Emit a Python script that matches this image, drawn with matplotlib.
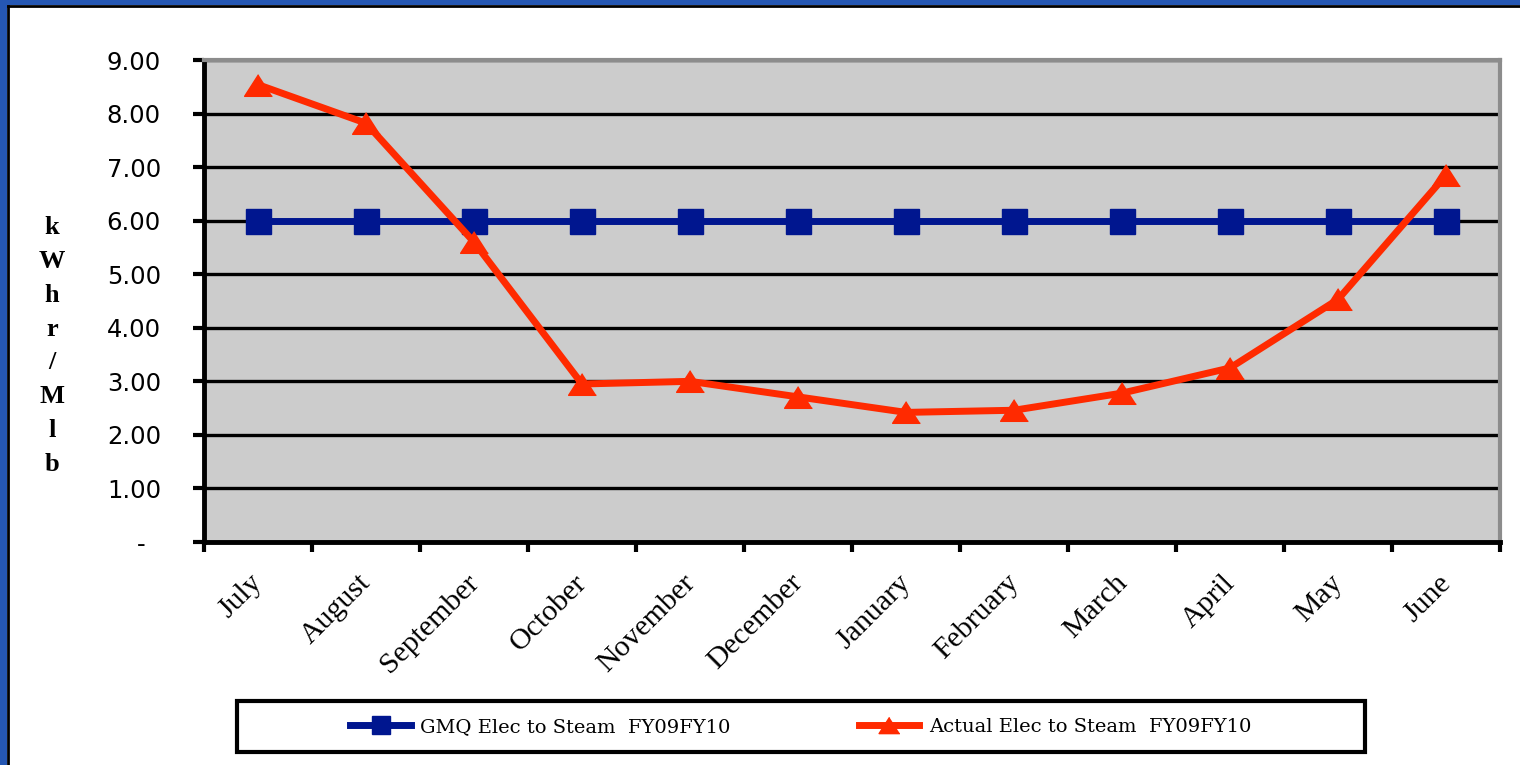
import matplotlib.pyplot as plt
from matplotlib.patches import Rectangle
from matplotlib.lines import Line2D
from matplotlib.transforms import ScaledTranslation

months = ['July', 'August', 'September', 'October', 'November', 'December',
          'January', 'February', 'March', 'April', 'May', 'June']
gmq = [6.00, 6.00, 6.00, 6.00, 6.00, 6.00, 6.00, 6.00, 6.00, 6.00, 6.00, 6.00]
actual = [8.54, 7.82, 5.60, 2.95, 3.00, 2.71, 2.42, 2.46, 2.78, 3.25, 4.53, 6.85]
yticks = [0, 1, 2, 3, 4, 5, 6, 7, 8, 9]

blue = '#00168f'
red = '#ff2a00'
tri = [(0, 0.78), (-1, -0.78), (1, -0.78)]

fig = plt.figure(figsize=(15.2, 7.65), dpi=100)
W, H = 1520, 765

# slide frame
fig.patches.append(Rectangle((0, 0), 7 / W, 1, transform=fig.transFigure,
                             facecolor='#2557b3', edgecolor='none'))
fig.patches.append(Rectangle((0, 1 - 5 / H), 1, 5 / H, transform=fig.transFigure,
                             facecolor='#2557b3', edgecolor='none'))
fig.lines.append(Line2D([8 / W, 8 / W], [0, 1 - 6 / H], transform=fig.transFigure,
                        color='black', lw=2))
fig.lines.append(Line2D([8 / W, 1], [1 - 6 / H, 1 - 6 / H], transform=fig.transFigure,
                        color='black', lw=2))

ax = fig.add_axes([204 / W, 1 - 542 / H, 1296 / W, 482 / H])
ax.set_facecolor('#cccccc')
x = list(range(len(months)))

ax.plot(x, gmq, color=blue, lw=5, marker='s', markersize=18,
        markerfacecolor=blue, markeredgecolor=blue, zorder=3,
        label='GMQ Elec to Steam  FY09FY10')
ax.plot(x, actual, color=red, lw=5, marker=tri, markersize=20,
        markerfacecolor=red, markeredgecolor=red, zorder=4,
        label='Actual Elec to Steam  FY09FY10')

ax.set_xlim(-0.5, len(months) - 0.5)
ax.set_ylim(0, 9)
ax.set_yticks(yticks)
ax.set_yticklabels(['-  '] + ['%.2f' % v for v in yticks[1:]],
                   fontsize=17.5, family='DejaVu Sans')
ax.yaxis.grid(True, color='black', lw=2.4)
ax.set_axisbelow(True)

ax.set_xticks([i - 0.5 for i in range(len(months) + 1)], minor=True)
ax.set_xticks(x)
ax.set_xticklabels(months, rotation=45, ha='right', va='top',
                   fontsize=21.5, family='Liberation Serif')
ax.tick_params(axis='x', which='major', length=0, pad=20)
ax.tick_params(axis='x', which='minor', length=7, width=3, color='black')
ax.tick_params(axis='y', length=8, width=3, color='black', pad=23)

# nudge month labels to the right of their category centres
shift = ScaledTranslation(0.10, 0.0, fig.dpi_scale_trans)
for lbl in ax.xaxis.get_majorticklabels():
    lbl.set_transform(lbl.get_transform() + shift)

for s in ['left', 'bottom']:
    ax.spines[s].set_linewidth(3.5)
    ax.spines[s].set_color('black')
for s in ['top', 'right']:
    ax.spines[s].set_linewidth(3)
    ax.spines[s].set_color('#8c8c8c')

# vertical axis title, one letter per line
fig.text(52 / W, 1 - 346 / H, '\n'.join('kWhr/Mlb'), ha='center', va='center',
         fontsize=19, fontweight='bold', family='Liberation Serif', linespacing=1.6)

# legend box
fig.patches.append(Rectangle((237 / W, 1 - 752 / H), 1128 / W, 51 / H,
                             transform=fig.transFigure, facecolor='white',
                             edgecolor='black', lw=3, zorder=5))
leg = fig.legend(loc='center', bbox_to_anchor=(801 / W, 1 - 727 / H), ncol=2,
                 frameon=False, prop={'family': 'DejaVu Serif', 'size': 14},
                 handlelength=3.1, handletextpad=0.5, columnspacing=6.6,
                 markerscale=0.75)
leg.set_zorder(6)

fig.savefig('out.png', dpi=100)
